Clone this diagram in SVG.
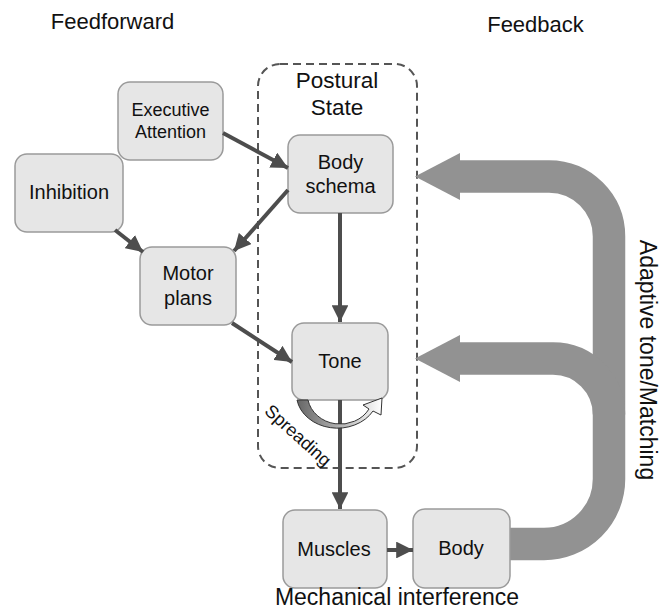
<svg xmlns="http://www.w3.org/2000/svg" width="671" height="614" viewBox="0 0 671 614">
<defs>
<style>
text{font-family:"Liberation Sans",Arial,sans-serif;fill:#111;text-anchor:middle}
.node rect{fill:#e6e6e6;stroke:#9a9a9a;stroke-width:1.5}
.n20{font-size:20px}
.conn line{stroke:#4d4d4d;stroke-width:4}
.fb{fill:none;stroke:#929292;stroke-width:32.5}
</style>
<marker id="ah" viewBox="0 0 10 10" refX="10" refY="5" markerWidth="4.2" markerHeight="4.2" markerUnits="strokeWidth" orient="auto">
<path d="M0,0 L10,5 L0,10 Z" fill="#4d4d4d"/>
</marker>
<linearGradient id="sg" x1="0" y1="0" x2="1" y2="0">
<stop offset="0" stop-color="#666"/>
<stop offset="1" stop-color="#ffffff"/>
</linearGradient>
</defs>
<rect width="671" height="614" fill="#fff"/>

<text x="112.5" y="28.5" style="font-size:22px">Feedforward</text>
<text x="535.5" y="32" style="font-size:22px">Feedback</text>

<g id="postural-state">
<rect x="258" y="64" width="159" height="404" rx="22" fill="none" stroke="#555" stroke-width="2" stroke-dasharray="8 5"/>
<text x="337" y="88" style="font-size:22.5px">Postural</text>
<text x="337" y="115" style="font-size:22.5px">State</text>
</g>

<g id="feedback">
<path class="fb" d="M458,176.5 H549 A60,60 0 0 1 609,236.5 V479 A65,65 0 0 1 544,544 H509"/>
<path class="fb" d="M458,358.5 H553 A56,56 0 0 1 609,414.5"/>
<polygon points="415,176.5 460,153 460,200" fill="#929292"/>
<polygon points="415,358.5 460,335 460,382" fill="#929292"/>
<text x="640" y="360" transform="rotate(90 640 360)" style="font-size:23px">Adaptive tone/Matching</text>
</g>

<g id="n-exec" class="node">
<rect x="118" y="82" width="105" height="78" rx="12"/>
<text x="170.5" y="116" style="font-size:18px">Executive</text>
<text x="170.5" y="138" style="font-size:18px">Attention</text>
</g>
<g id="n-inhibition" class="node">
<rect x="15" y="154" width="108" height="78" rx="12"/>
<text class="n20" x="69" y="199">Inhibition</text>
</g>
<g id="n-bodyschema" class="node">
<rect x="288" y="135" width="105" height="78" rx="12"/>
<text class="n20" x="340.5" y="169">Body</text>
<text class="n20" x="340.5" y="193">schema</text>
</g>
<g id="n-motor" class="node">
<rect x="140" y="247" width="96" height="78" rx="12"/>
<text class="n20" x="188" y="280">Motor</text>
<text class="n20" x="188" y="305">plans</text>
</g>
<g id="n-tone" class="node">
<rect x="292" y="323" width="96" height="77" rx="12"/>
<text class="n20" x="340" y="368">Tone</text>
</g>
<g id="n-muscles" class="node">
<rect x="283" y="510" width="104" height="78" rx="12"/>
<text class="n20" x="334" y="556">Muscles</text>
</g>
<g id="n-body" class="node">
<rect x="413" y="509" width="97" height="79" rx="12"/>
<text class="n20" x="461" y="555">Body</text>
</g>

<g id="connectors" class="conn">
<line x1="223" y1="133" x2="288" y2="168" marker-end="url(#ah)"/>
<line x1="288" y1="190" x2="234" y2="251" marker-end="url(#ah)"/>
<line x1="115" y1="230" x2="143" y2="252" marker-end="url(#ah)"/>
<line x1="340" y1="213" x2="340" y2="322" marker-end="url(#ah)"/>
<line x1="232" y1="323" x2="292" y2="362" marker-end="url(#ah)"/>
<line x1="340" y1="400" x2="340" y2="509" marker-end="url(#ah)"/>
<line x1="387" y1="550" x2="413" y2="550" marker-end="url(#ah)"/>
</g>

<g id="spreading">
<path d="M297,400 A41,34 0 0 0 373,411 L381,415 L382,398 L363,405 L369,409 A33,30 0 0 1 308,400 Z" fill="url(#sg)" stroke="#333" stroke-width="1"/>
<text x="294" y="440" transform="rotate(42 294 440)" style="font-size:18px">Spreading</text>
</g>

<text x="397" y="605" style="font-size:23px">Mechanical interference</text>
</svg>
